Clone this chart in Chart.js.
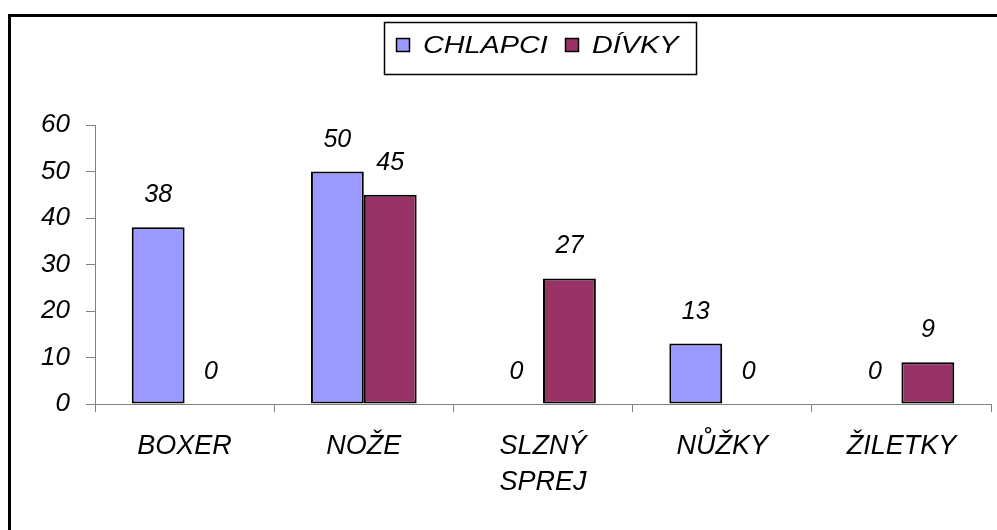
<!DOCTYPE html>
<html>
<head>
<meta charset="utf-8">
<script src="https://cdn.jsdelivr.net/npm/chart.js@4/dist/chart.umd.min.js"></script>
<style>
  html, body { margin: 0; padding: 0; background: #fff; }
  #wrap { position: relative; width: 997px; height: 530px; }
</style>
</head>
<body>
<div id="wrap"><canvas id="graf"></canvas></div>
<script>
// data
const kategorie = ['BOXER', 'NOŽE', ['SLZNÝ', 'SPREJ'], 'NŮŽKY', 'ŽILETKY'];
const chlapci = [38, 50, 0, 13, 0];
const divky = [0, 45, 27, 0, 9];
const yTicks = [0, 10, 20, 30, 40, 50, 60];

const FONT = '"Liberation Sans", Arial, sans-serif';

// frame round the whole chart (cut off on right and bottom)
const ramecek = {
    id: 'ramecek',
    beforeDraw(chart) {
        const ctx = chart.ctx;
        ctx.save();
        ctx.fillStyle = '#fff';
        ctx.fillRect(0, 0, chart.width, chart.height);
        ctx.strokeStyle = '#000';
        ctx.lineWidth = 3;
        ctx.beginPath();
        ctx.moveTo(9.5, chart.height + 5);
        ctx.lineTo(9.5, 15.5);
        ctx.lineTo(chart.width + 5, 15.5);
        ctx.stroke();
        ctx.restore();
    }
};

// values above the bars
const popisky = {
    id: 'popisky',
    afterDatasetsDraw(chart) {
        const ctx = chart.ctx;
        ctx.save();
        ctx.font = 'italic 25px ' + FONT;
        ctx.fillStyle = '#000';
        ctx.textAlign = 'center';
        ctx.textBaseline = 'alphabetic';
        chart.data.datasets.forEach((ds, i) => {
            chart.getDatasetMeta(i).data.forEach((bar, j) => {
                ctx.fillText(String(ds.data[j]), bar.x, bar.y - 25);
            });
        });
        ctx.restore();
    }
};

// legend in a box, Excel style
const legenda = {
    id: 'legenda',
    afterDraw(chart) {
        const ctx = chart.ctx;
        ctx.save();
        ctx.strokeStyle = '#000';
        ctx.lineWidth = 1.5;
        ctx.strokeRect(384.5, 22.5, 312, 52);
        const polozky = [{ x: 396 }, { x: 565 }];
        chart.data.datasets.forEach((ds, i) => {
            const p = polozky[i];
            ctx.fillStyle = ds.backgroundColor;
            ctx.fillRect(p.x, 38, 14, 14);
            ctx.lineWidth = 1.5;
            ctx.strokeRect(p.x + 0.5, 38.5, 13, 13);
            ctx.save();
            ctx.translate(p.x + 27, 52.5);
            ctx.scale(1.2, 1);
            ctx.font = 'italic 24px ' + FONT;
            ctx.fillStyle = '#000';
            ctx.textAlign = 'left';
            ctx.fillText(ds.label, 0, 0);
            ctx.restore();
        });
        ctx.restore();
    }
};

new Chart(document.getElementById('graf'), {
    type: 'bar',
    data: {
        labels: kategorie,
        datasets: [
            {
                label: 'CHLAPCI',
                data: chlapci,
                backgroundColor: '#9999FF',
                borderColor: '#000',
                borderWidth: 2,
                borderSkipped: false
            },
            {
                label: 'DÍVKY',
                data: divky,
                backgroundColor: '#993366',
                borderColor: '#000',
                borderWidth: 2,
                borderSkipped: false
            }
        ]
    },
    options: {
        responsive: true,
        maintainAspectRatio: false,
        animation: false,
        categoryPercentage: 0.59,
        barPercentage: 1,
        layout: { padding: { left: 0, top: 125, right: 6, bottom: 0 } },
        plugins: {
            legend: { display: false },
            tooltip: { enabled: false }
        },
        scales: {
            x: {
                grid: {
                    offset: true,
                    drawOnChartArea: false,
                    drawTicks: true,
                    tickLength: 8,
                    color: '#808080'
                },
                border: { color: '#808080', width: 1 },
                ticks: {
                    color: '#000',
                    padding: 16,
                    maxRotation: 0,
                    autoSkip: false,
                    font: { family: FONT, size: 27, style: 'italic', lineHeight: 1.35 }
                },
                afterFit(scale) { scale.height = 126; }
            },
            y: {
                min: 0,
                max: 60,
                afterBuildTicks(scale) { scale.ticks = yTicks.map(v => ({ value: v })); },
                grid: {
                    drawOnChartArea: false,
                    drawTicks: true,
                    tickLength: 9,
                    color: '#808080'
                },
                border: { color: '#808080', width: 1 },
                ticks: {
                    color: '#000',
                    padding: 16,
                    font: { family: FONT, size: 26, style: 'italic' }
                },
                afterFit(scale) { scale.width = 95; }
            }
        }
    },
    plugins: [ramecek, popisky, legenda]
});
</script>
</body>
</html>
